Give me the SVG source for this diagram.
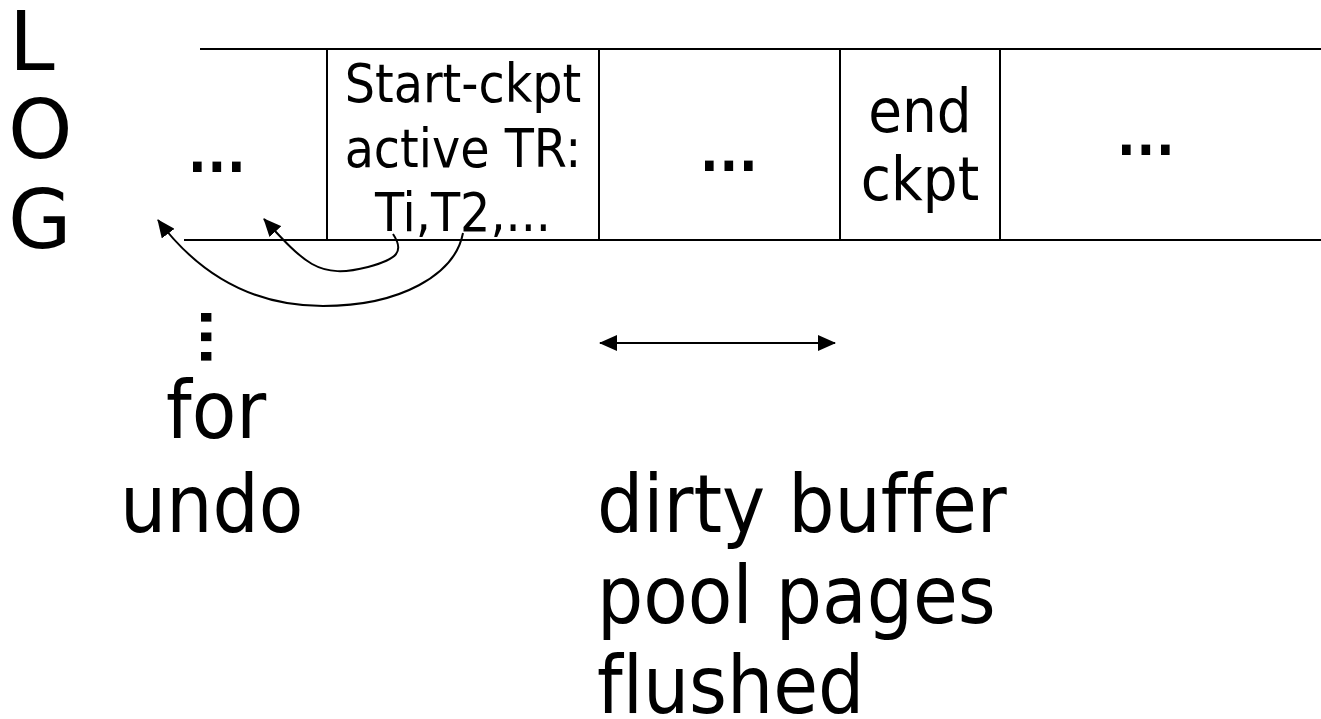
<svg xmlns="http://www.w3.org/2000/svg" width="1321" height="719" viewBox="0 0 1321 719">
<style>
  text { font-family: "DejaVu Sans", "Liberation Sans", sans-serif; font-stretch: condensed; fill: #000; font-variant-ligatures: none; }
  .cell { font-size: 53px; text-anchor: middle; }
  .big { font-size: 61px; text-anchor: middle; }
  .dots { font-size: 84px; letter-spacing: -7.2px; font-stretch: normal; }
  .label { font-size: 81px; }
  .log { font-size: 82px; font-stretch: normal; }
  .ln { stroke: #000; stroke-width: 2; fill: none; }
  .conn { stroke: #000; stroke-width: 2; fill: none; }
</style>
<defs>
  <marker id="ah" viewBox="0 0 18 16" refX="17" refY="8" markerWidth="18" markerHeight="16" markerUnits="userSpaceOnUse" orient="auto-start-reverse">
    <path d="M0,0 L18,8 L0,16 z" fill="#000"/>
  </marker>
</defs>
<rect width="1321" height="719" fill="#fff"/>

<g id="log-label">
  <text class="log" x="9" y="70">L</text>
  <text class="log" x="8" y="158">O</text>
  <text class="log" x="8" y="248">G</text>
</g>

<g id="log-frame">
  <line class="ln" x1="200" y1="49" x2="1321" y2="49"/>
  <line class="ln" x1="184" y1="240" x2="1321" y2="240"/>
</g>

<g id="cell-1">
  <text class="dots" x="184" y="172">...</text>
</g>

<g id="cell-start-ckpt">
  <line class="ln" x1="327" y1="49" x2="327" y2="240"/>
  <text class="cell" x="463" y="102">Start-ckpt</text>
  <text class="cell" x="463" y="167">active TR:</text>
  <text class="cell" x="463" y="231">Ti,T2,...</text>
</g>

<g id="cell-3">
  <line class="ln" x1="599" y1="49" x2="599" y2="240"/>
  <text class="dots" x="696" y="171">...</text>
</g>

<g id="cell-end-ckpt">
  <line class="ln" x1="840" y1="49" x2="840" y2="240"/>
  <text class="big" x="920" y="132">end</text>
  <text class="big" x="920" y="200">ckpt</text>
</g>

<g id="cell-5">
  <line class="ln" x1="1000" y1="49" x2="1000" y2="240"/>
  <text class="dots" x="1113" y="155">...</text>
</g>

<g id="connectors">
  <path class="conn" d="M393,234 C405,252 397,259 368,267 C345,273 328,273 312,264 C298,256 284,241 264,219" marker-end="url(#ah)"/>
  <path class="conn" d="M463,233 C455,275 400,306 323,306 C255,306 200,276 158,220" marker-end="url(#ah)"/>
  <line class="conn" x1="600" y1="343" x2="835" y2="343" marker-start="url(#ah)" marker-end="url(#ah)"/>
</g>

<g id="undo-note">
  <text class="dots" transform="translate(201,304) rotate(90)" x="0" y="0">...</text>
  <text class="label" x="166" y="438">for</text>
  <text class="label" x="120" y="532">undo</text>
</g>

<g id="flush-note">
  <text class="label" x="597" y="532">dirty buffer</text>
  <text class="label" x="597" y="623">pool pages</text>
  <text class="label" x="597" y="713">flushed</text>
</g>
</svg>
